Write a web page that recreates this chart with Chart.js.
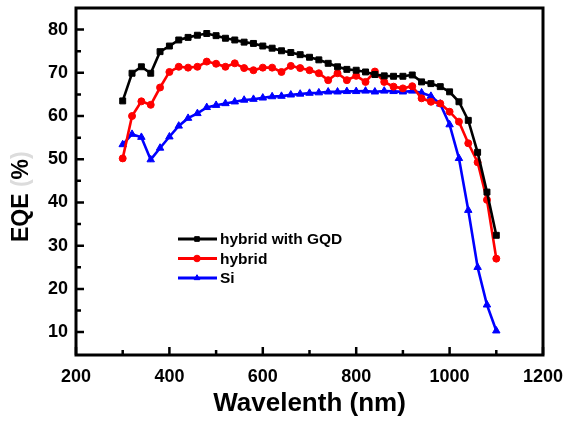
<!DOCTYPE html>
<html>
<head>
<meta charset="utf-8">
<style>
  html, body { margin: 0; padding: 0; background: #fff; }
  #wrap { width: 563px; height: 423px; }
</style>
<script src="https://cdn.jsdelivr.net/npm/chart.js@4.4.0/dist/chart.umd.min.js"></script>
</head>
<body>
<div id="wrap"><canvas id="eqe"></canvas></div>
<script>
// wavelengths, 20 nm apart
const wavelength = [];
for (let w = 300; w <= 1100; w += 20) wavelength.push(w);

const gqd = [63.5, 69.9, 71.4, 69.9, 74.9, 76.2, 77.6, 78.2, 78.7, 79.1,
  78.6, 78.0, 77.6, 77.1, 76.8, 76.2, 75.7, 75.1, 74.7, 74.2,
  73.6, 73.0, 72.2, 71.4, 70.8, 70.6, 70.2, 69.6, 69.3, 69.2,
  69.2, 69.5, 67.9, 67.5, 66.8, 65.6, 63.3, 59.0, 51.6, 42.4, 32.4];

const hybrid = [50.2, 60.0, 63.4, 62.6, 66.6, 70.2, 71.4, 71.2, 71.4, 72.6,
  72.1, 71.4, 72.2, 71.1, 70.6, 71.2, 71.2, 70.2, 71.6, 71.1,
  70.6, 69.9, 68.3, 69.9, 68.3, 69.3, 67.9, 70.3, 67.9, 66.8,
  66.4, 66.9, 64.1, 63.3, 62.9, 61.0, 58.7, 53.7, 49.3, 40.6, 27.0];

const si = [53.4, 55.8, 55.1, 49.9, 52.6, 55.2, 57.7, 59.5, 60.6, 62.0,
  62.5, 62.9, 63.3, 63.7, 63.9, 64.2, 64.5, 64.6, 64.9, 65.1,
  65.3, 65.4, 65.6, 65.6, 65.7, 65.7, 65.8, 65.6, 65.8, 65.7,
  65.6, 65.8, 65.4, 64.6, 62.8, 58.0, 50.2, 38.2, 25.0, 16.3, 10.3];

const seriesNames = ['hybrid with GQD', 'hybrid', 'Si'];
const xTicks = [200, 400, 600, 800, 1000, 1200];
const xMinor = [300, 500, 700, 900, 1100];
const yTicks = [10, 20, 30, 40, 50, 60, 70, 80];
const yMinor = [15, 25, 35, 45, 55, 65, 75];

const FONT = 'Arial, "Liberation Sans", sans-serif';

function pts(vals) {
  return vals.map((v, i) => ({ x: wavelength[i], y: v }));
}

// box, inward ticks, axis title and legend
const framePlugin = {
  id: 'frame',
  afterDraw(chart) {
    const { ctx, chartArea: a, scales } = chart;
    const xs = scales.x, ys = scales.y;
    ctx.save();
    ctx.strokeStyle = '#000';
    ctx.lineWidth = 2.5;
    ctx.lineCap = 'butt';
    ctx.beginPath();
    xTicks.forEach(v => { const p = xs.getPixelForValue(v); ctx.moveTo(p, a.bottom); ctx.lineTo(p, a.bottom - 8); });
    xMinor.forEach(v => { const p = xs.getPixelForValue(v); ctx.moveTo(p, a.bottom); ctx.lineTo(p, a.bottom - 5); });
    yTicks.forEach(v => { const p = ys.getPixelForValue(v); ctx.moveTo(a.left, p); ctx.lineTo(a.left + 8, p); });
    yMinor.forEach(v => { const p = ys.getPixelForValue(v); ctx.moveTo(a.left, p); ctx.lineTo(a.left + 5, p); });
    ctx.stroke();
    ctx.lineWidth = 3;
    ctx.strokeRect(a.left, a.top, a.right - a.left, a.bottom - a.top);

    // y title, faint brackets as in the source figure
    ctx.translate(22, 242);
    ctx.rotate(-Math.PI / 2);
    ctx.font = 'bold 23px ' + FONT;
    ctx.textBaseline = 'middle';
    ctx.textAlign = 'left';
    let x = 0;
    const parts = [['EQE ', '#000'], ['(', '#dcdcdc'], ['%', '#000'], [')', '#dcdcdc']];
    parts.forEach(([t, c]) => { ctx.fillStyle = c; ctx.fillText(t, x, 0); x += ctx.measureText(t).width; });
    ctx.setTransform(1, 0, 0, 1, 0, 0);

    // legend
    ctx.font = 'bold 15.5px ' + FONT;
    ctx.textBaseline = 'middle';
    chart.data.datasets.forEach((ds, i) => {
      const y = 239 + i * 19.5;
      ctx.strokeStyle = ds.borderColor;
      ctx.lineWidth = 3;
      ctx.beginPath();
      ctx.moveTo(178, y); ctx.lineTo(217, y);
      ctx.stroke();
      ctx.fillStyle = ds.backgroundColor;
      ctx.strokeStyle = ds.borderColor;
      ctx.lineWidth = 1;
      Chart.helpers.drawPoint(ctx, { pointStyle: ds.pointStyle, radius: 3.3, borderWidth: 1 }, 197, y);
      ctx.fillStyle = '#000';
      ctx.fillText(ds.label, 220, y + 1);
    });
    ctx.restore();
  }
};

const colors = ['#000000', '#ff0000', '#0000ff'];
const styles = ['rect', 'circle', 'triangle'];
const radii = [4.2, 3.5, 4.3];
const values = [gqd, hybrid, si];

new Chart(document.getElementById('eqe'), {
  type: 'line',
  data: {
    datasets: values.map((v, i) => ({
      label: seriesNames[i],
      data: pts(v),
      borderColor: colors[i],
      backgroundColor: colors[i],
      borderWidth: 2.6,
      pointStyle: styles[i],
      pointRadius: radii[i],
      pointBorderWidth: 1,
      tension: 0
    }))
  },
  options: {
    responsive: true,
    maintainAspectRatio: false,
    animation: false,
    layout: { padding: { top: 8, right: 20, left: 0, bottom: 0 } },
    plugins: { legend: { display: false }, tooltip: { enabled: false } },
    scales: {
      x: {
        type: 'linear',
        min: 200, max: 1200,
        afterBuildTicks: s => { s.ticks = xTicks.map(v => ({ value: v })); },
        afterFit: s => { s.height = 68; s.paddingLeft = 0; s.paddingRight = 0; },
        grid: { display: false, drawTicks: false },
        border: { display: false },
        ticks: { color: '#000', padding: 11, callback: v => String(v), font: { family: FONT, size: 18, weight: 'bold' }, maxRotation: 0 },
        title: { display: true, text: 'Wavelenth (nm)', color: '#000', padding: { top: 11 }, font: { family: FONT, size: 26, weight: 'bold' } }
      },
      y: {
        min: 4.7, max: 85,
        afterBuildTicks: s => { s.ticks = yTicks.map(v => ({ value: v })); },
        afterFit: s => { s.width = 76; s.paddingTop = 0; s.paddingBottom = 0; },
        grid: { display: false, drawTicks: false },
        border: { display: false },
        ticks: { color: '#000', padding: 8, font: { family: FONT, size: 18, weight: 'bold' } }
      }
    }
  },
  plugins: [framePlugin]
});
</script>
</body>
</html>
